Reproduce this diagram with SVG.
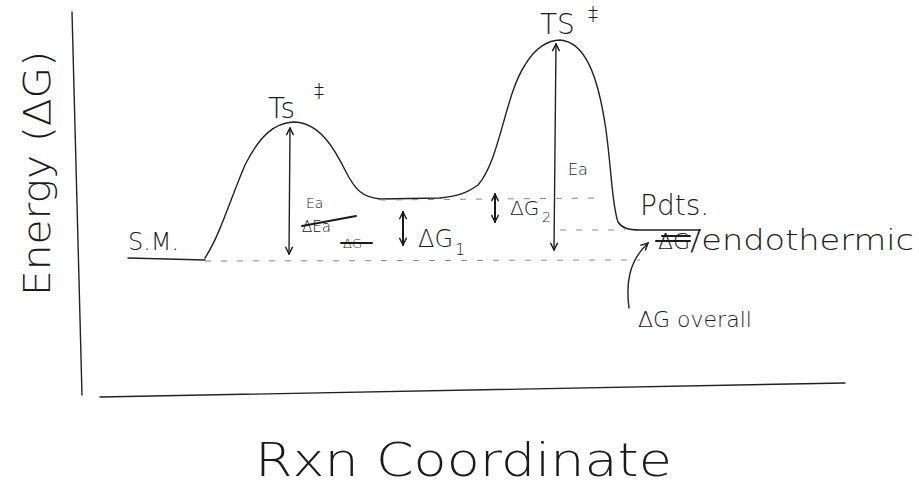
<svg xmlns="http://www.w3.org/2000/svg" width="919" height="489" viewBox="0 0 919 489">
<defs>
<style>
.ln{fill:none;stroke:#1a1a1a;stroke-width:2;stroke-linecap:round;stroke-linejoin:round}
.th{fill:none;stroke:#222;stroke-width:1.4;stroke-linecap:round}
.ds{fill:none;stroke:#888;stroke-width:1;stroke-dasharray:6 10}
.t{font-family:"DejaVu Sans","Liberation Sans",sans-serif;fill:#1a1a1a;font-weight:300}
</style>
<marker id="ah" viewBox="0 0 10 10" refX="9" refY="5" markerWidth="9" markerHeight="9" orient="auto-start-reverse" markerUnits="userSpaceOnUse">
<path d="M1,1 L9,5 L1,9" fill="none" stroke="#1a1a1a" stroke-width="1.6"/>
</marker>
</defs>
<rect width="919" height="489" fill="#fff"/>
<g id="axes">
<path class="th" d="M72,12 C76,120 78,250 82,395"/>
<path class="th" d="M100,397 C350,392 600,388 845,383"/>
</g>
<g id="labels">
<text class="t" font-size="38" transform="translate(50,296) rotate(-90)" textLength="245" lengthAdjust="spacingAndGlyphs">Energy (ΔG)</text>
<text class="t" font-size="46" x="255" y="476" textLength="417" lengthAdjust="spacingAndGlyphs">Rxn  Coordinate</text>
</g>
<g id="curve">
<path class="th" d="M128,258 L205,260"/>
<path class="th" d="M205,258 C220,235 230,200 245,165 C260,135 275,123 293,122 C320,122 335,150 345,170 C355,190 362,197 380,199 L440,198 C460,196 468,192 478,185 C500,160 505,95 525,65 C535,48 548,40 560,40 C585,42 598,75 606,130 C612,175 612,205 618,222 C622,228 628,230 640,230 L700,230"/>
</g>
<g id="guides">
<path class="ds" d="M205,261 L640,260"/>
<path class="ds" d="M380,200 L600,198"/>
<path class="ds" d="M560,230 L625,230"/>
</g>
<g id="connectors">
<path class="th" d="M290,128 L289,254" marker-start="url(#ah)" marker-end="url(#ah)"/>
<path class="th" d="M556,44 L554,250" marker-start="url(#ah)" marker-end="url(#ah)"/>
<path class="ln" d="M403,212 L403,245" marker-start="url(#ah)" marker-end="url(#ah)"/>
<path class="ln" d="M495,194 L495,222" marker-start="url(#ah)" marker-end="url(#ah)"/>
<path class="th" d="M629,308 C626,285 628,262 648,243" marker-end="url(#ah)"/>
</g>
<g id="ts1"><text class="t" font-size="28" x="268" y="118">Ts</text><text class="t" font-size="20" x="314" y="97">‡</text></g>
<g id="ts2"><text class="t" font-size="28" x="540" y="34">TS</text><text class="t" font-size="20" x="588" y="20">‡</text></g>
<g id="sm"><text class="t" font-size="24" x="128" y="250">S.M.</text></g>
<g id="ea1">
<text class="t" font-size="14" x="306" y="208">Ea</text>
<text class="t" font-size="15" x="302" y="232">ΔEa</text>
<path class="ln" d="M302,226 L356,216"/>
<text class="t" font-size="13" x="343" y="248">ΔG</text>
<path class="ln" d="M341,243 L372,243"/>
</g>
<g id="dg1"><text class="t" font-size="24" x="418" y="247">ΔG</text><text class="t" font-size="16" x="455" y="255">1</text></g>
<g id="dg2"><text class="t" font-size="20" x="510" y="215">ΔG</text><text class="t" font-size="14" x="542" y="222">2</text></g>
<g id="ea2"><text class="t" font-size="16" x="568" y="175">Ea</text></g>
<g id="pdts"><text class="t" font-size="28" x="640" y="215">Pdts.</text></g>
<g id="endo">
<text class="t" font-size="22" x="658" y="249">ΔG</text>
<path class="ln" d="M656,241 L690,241 M662,236 L690,236"/>
<text class="t" font-size="28" x="690" y="250" textLength="224" lengthAdjust="spacingAndGlyphs">/endothermic</text>
</g>
<g id="overall"><text class="t" font-size="22" x="638" y="327">ΔG overall</text></g>
</svg>
